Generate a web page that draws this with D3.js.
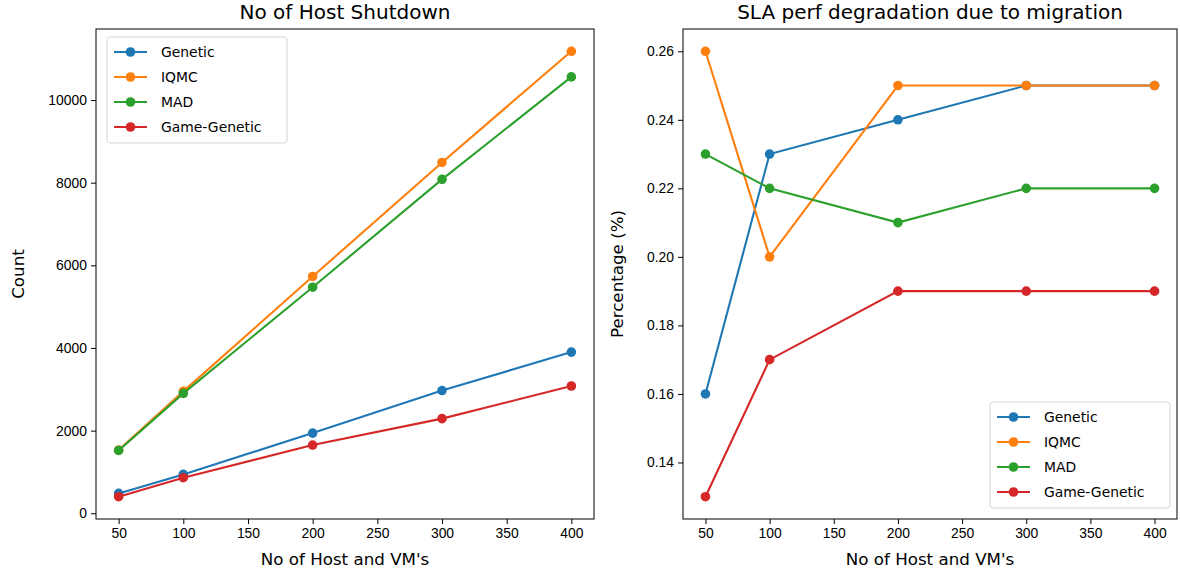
<!DOCTYPE html>
<html>
<head>
<meta charset="utf-8">
<script src="https://cdn.jsdelivr.net/npm/d3@7"></script>
<style>
    body { margin: 0; background: #fff; }
    svg { font-family: "DejaVu Sans", sans-serif; }
    .tick text { font-size: 13.9px; fill: #000; }
    .tick line, .domain { stroke: #000; }
</style>
</head>
<body>
<svg id="chart" width="1180" height="574"></svg>
<script>
const hosts = [50, 100, 200, 300, 400];
const seriesNames = ["Genetic", "IQMC", "MAD", "Game-Genetic"];
const colors = ["#1f77b4", "#ff7f0e", "#2ca02c", "#d62728"];

// No of Host Shutdown
const shutdownGenetic = [480, 940, 1940, 2970, 3900];
const shutdownIQMC = [1530, 2950, 5730, 8490, 11180];
const shutdownMAD = [1520, 2900, 5470, 8080, 10560];
const shutdownGameGenetic = [400, 860, 1650, 2290, 3080];
const shutdownTicks = [0, 2000, 4000, 6000, 8000, 10000];

// SLA perf degradation due to migration
const slaGenetic = [0.16, 0.23, 0.24, 0.25, 0.25];
const slaIQMC = [0.26, 0.20, 0.25, 0.25, 0.25];
const slaMAD = [0.23, 0.22, 0.21, 0.22, 0.22];
const slaGameGenetic = [0.13, 0.17, 0.19, 0.19, 0.19];
const slaTicks = [0.14, 0.16, 0.18, 0.20, 0.22, 0.24, 0.26];

const xTicks = [50, 100, 150, 200, 250, 300, 350, 400];

const svg = d3.select("#chart");

function padded(lo, hi) {
    let m = (hi - lo) * 0.05;
    return [lo - m, hi + m];
}

function drawPanel(opts) {
    let {left, right, top, bottom, title, yLabel, series, yTicks, yFormat, legendPos} = opts;

    let allY = series.flat();
    let x = d3.scaleLinear().domain(padded(d3.min(hosts), d3.max(hosts))).range([left, right]);
    let y = d3.scaleLinear().domain(padded(d3.min(allY), d3.max(allY))).range([bottom, top]);

    let g = svg.append("g");

    // lines + markers
    series.forEach((vals, i) => {
        let pts = hosts.map((h, j) => [h, vals[j]]);
        g.append("path")
            .attr("d", d3.line().x(d => x(d[0])).y(d => y(d[1]))(pts))
            .attr("fill", "none")
            .attr("stroke", colors[i])
            .attr("stroke-width", 2.1);
        g.selectAll(null)
            .data(pts)
            .enter()
            .append("circle")
            .attr("cx", d => x(d[0]))
            .attr("cy", d => y(d[1]))
            .attr("r", 4.8)
            .attr("fill", colors[i]);
    });

    // axes
    g.append("g")
        .attr("transform", `translate(0,${bottom})`)
        .call(d3.axisBottom(x).tickValues(xTicks).tickSize(5).tickPadding(4).tickSizeOuter(0))
        .call(a => a.select(".domain").remove());
    g.append("g")
        .attr("transform", `translate(${left},0)`)
        .call(d3.axisLeft(y).tickValues(yTicks).tickFormat(yFormat).tickSize(5).tickPadding(4).tickSizeOuter(0))
        .call(a => a.select(".domain").remove());

    g.append("rect")
        .attr("x", left).attr("y", top)
        .attr("width", right - left).attr("height", bottom - top)
        .attr("fill", "none").attr("stroke", "#000").attr("stroke-width", 1);

    g.append("text")
        .attr("x", (left + right) / 2).attr("y", top - 10)
        .attr("text-anchor", "middle")
        .attr("font-size", 20)
        .text(title);

    g.append("text")
        .attr("x", (left + right) / 2).attr("y", bottom + 46)
        .attr("text-anchor", "middle")
        .attr("font-size", 16.7)
        .text("No of Host and VM's");

    g.append("text")
        .attr("transform", `translate(${opts.yLabelX},${(top + bottom) / 2}) rotate(-90)`)
        .attr("text-anchor", "middle")
        .attr("font-size", 16.7)
        .text(yLabel);

    // legend
    let [lx, ly] = legendPos;
    let lg = g.append("g").attr("transform", `translate(${lx},${ly})`);
    lg.append("rect")
        .attr("width", 180).attr("height", 106)
        .attr("rx", 3)
        .attr("fill", "#fff").attr("fill-opacity", 0.8)
        .attr("stroke", "#d5d5d5");
    seriesNames.forEach((name, i) => {
        let cy = 15 + i * 25;
        lg.append("line")
            .attr("x1", 7).attr("x2", 40).attr("y1", cy).attr("y2", cy)
            .attr("stroke", colors[i]).attr("stroke-width", 2.1);
        lg.append("circle")
            .attr("cx", 23.5).attr("cy", cy).attr("r", 4.8).attr("fill", colors[i]);
        lg.append("text")
            .attr("x", 54).attr("y", cy).attr("dy", "0.35em")
            .attr("font-size", 13.9)
            .text(name);
    });
}

drawPanel({
    left: 96, right: 594, top: 29, bottom: 519,
    title: "No of Host Shutdown",
    yLabel: "Count",
    yLabelX: 24,
    series: [shutdownGenetic, shutdownIQMC, shutdownMAD, shutdownGameGenetic],
    yTicks: shutdownTicks,
    yFormat: d3.format("d"),
    legendPos: [107, 37]
});

drawPanel({
    left: 683, right: 1177, top: 29, bottom: 519,
    title: "SLA perf degradation due to migration",
    yLabel: "Percentage (%)",
    yLabelX: 623,
    series: [slaGenetic, slaIQMC, slaMAD, slaGameGenetic],
    yTicks: slaTicks,
    yFormat: d3.format(".2f"),
    legendPos: [990, 402]
});
</script>
</body>
</html>
